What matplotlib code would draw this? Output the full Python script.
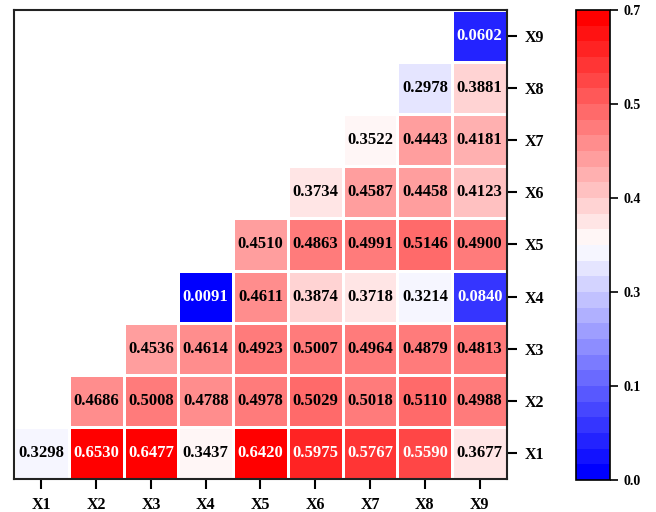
import numpy as np
import matplotlib.pyplot as plt
from matplotlib.colors import Normalize
from matplotlib.ticker import FormatStrFormatter

labels = ['X1', 'X2', 'X3', 'X4', 'X5', 'X6', 'X7', 'X8', 'X9']

# each row k holds the values for columns Xk..X9
row_x1 = [0.3298, 0.6530, 0.6477, 0.3437, 0.6420, 0.5975, 0.5767, 0.5590, 0.3677]
row_x2 = [0.4686, 0.5008, 0.4788, 0.4978, 0.5029, 0.5018, 0.5110, 0.4988]
row_x3 = [0.4536, 0.4614, 0.4923, 0.5007, 0.4964, 0.4879, 0.4813]
row_x4 = [0.0091, 0.4611, 0.3874, 0.3718, 0.3214, 0.0840]
row_x5 = [0.4510, 0.4863, 0.4991, 0.5146, 0.4900]
row_x6 = [0.3734, 0.4587, 0.4458, 0.4123]
row_x7 = [0.3522, 0.4443, 0.4181]
row_x8 = [0.2978, 0.3881]
row_x9 = [0.0602]
rows = [row_x1, row_x2, row_x3, row_x4, row_x5, row_x6, row_x7, row_x8, row_x9]

n = len(labels)
mat = np.full((n, n), np.nan)
for i, r in enumerate(rows):
    mat[i, i:] = r
data = np.ma.masked_invalid(mat)

vmin, vmax = np.nanmin(mat), np.nanmax(mat)
cmap = plt.get_cmap('bwr', 30)
norm = Normalize(vmin=vmin, vmax=vmax)

plt.rcParams['font.family'] = 'Liberation Serif'
plt.rcParams['font.weight'] = 'bold'

fig = plt.figure(figsize=(6.56, 5.12), dpi=100)
ax = fig.add_axes([0.0213, 0.0645, 0.7516, 0.916])
cax = fig.add_axes([0.878, 0.0625, 0.052, 0.918])

mesh = ax.pcolormesh(np.arange(n + 1) - 0.5, np.arange(n + 1) - 0.5, data,
                     cmap=cmap, norm=norm, edgecolors='white', linewidth=2)
ax.set_xlim(-0.5, n - 0.5)
ax.set_ylim(-0.5, n - 0.5)

for i in range(n):
    for j in range(i, n):
        v = mat[i, j]
        col = 'white' if (v > 0.55 or v < 0.1) else 'black'
        ax.text(j, i, '%.4f' % v, ha='center', va='center',
                fontsize=12, fontweight='bold', color=col)

ax.set_xticks(range(n))
ax.set_xticklabels(labels, fontsize=11.5, fontweight='bold')
ax.set_yticks(range(n))
ax.set_yticklabels(labels, fontsize=11.5, fontweight='bold')
ax.yaxis.tick_right()
ax.tick_params(axis='both', length=7, width=1.5, direction='out', pad=6)
for s in ax.spines.values():
    s.set_linewidth(1.5)
    s.set_color('#222222')

cb = fig.colorbar(mesh, cax=cax)
cb.set_ticks(np.linspace(vmin, vmax, 6))
cb.ax.yaxis.set_major_formatter(FormatStrFormatter('%.1f'))
cb.ax.tick_params(labelsize=10, length=6, width=1.2)
for t in cb.ax.get_yticklabels():
    t.set_fontweight('bold')
cb.outline.set_linewidth(1.2)

fig.savefig('out.png', dpi=100)
